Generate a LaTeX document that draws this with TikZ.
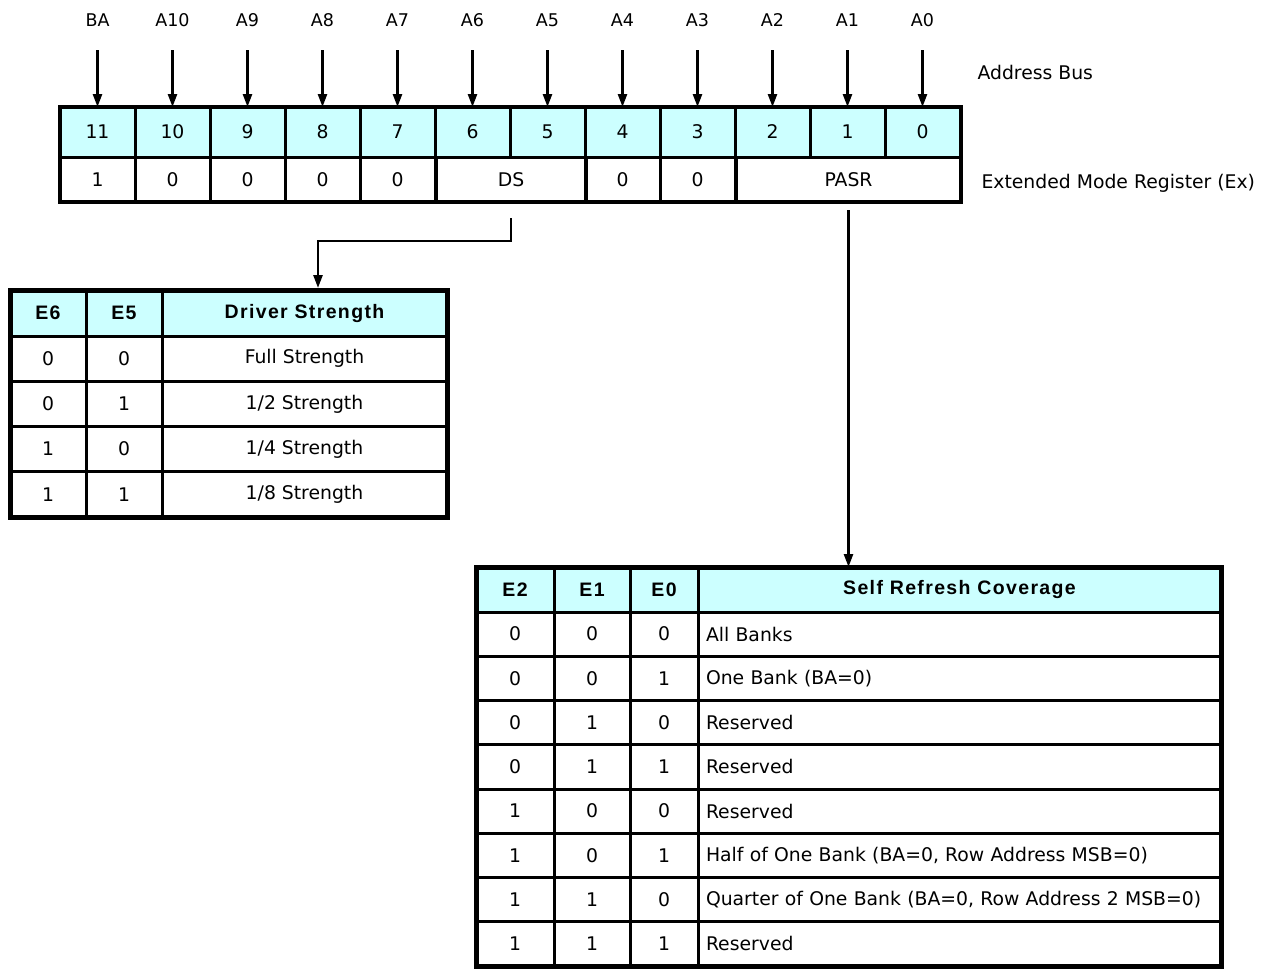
\documentclass[tikz,border=0pt]{standalone}
\usepackage{fontspec}
\setmainfont{DejaVu Sans}
\newfontfamily\headfont{Liberation Sans}[LetterSpace=7]
\usepackage{tikz}
\usetikzlibrary{arrows.meta,positioning,calc}
\definecolor{regcyan}{RGB}{204,255,255}

\newcommand{\cellfont}{\fontsize{18.8}{21}\selectfont}
\newcommand{\tagfont}{\fontsize{17.5}{19}\selectfont}
\newcommand{\hdfont}{\headfont\bfseries\fontsize{19.5}{22}\selectfont}

\begin{document}
\begin{tikzpicture}[x=1pt, y=-1pt,
  bitcell/.style={draw, line width=3pt, fill=regcyan, minimum width=75pt,
                  minimum height=50pt, inner sep=0pt, outer sep=0pt, font=\cellfont},
  valcell/.style={draw, line width=3pt, minimum width=#1, minimum height=45pt,
                  inner sep=0pt, outer sep=0pt, font=\cellfont},
  tcell/.style={draw, line width=3pt, minimum width=#1, minimum height=45.25pt,
                inner sep=0pt, outer sep=0pt, font=\cellfont},
  hcell/.style={tcell=#1, fill=regcyan, minimum height=46pt, font=\hdfont},
  addr/.style={font=\tagfont, inner sep=1pt},
  sig/.style={line width=2.5pt, -{Triangle[length=13pt, width=9pt]}}
]
  \useasboundingbox (0,0) rectangle (1271,969);

  % Register bits with address lines
  \foreach \b/\lbl in {11/BA,10/A10,9/A9,8/A8,7/A7,6/A6,5/A5,4/A4,3/A3,2/A2,1/A1,0/A0} {
    \node[bitcell] (b\b) at ({97.5+(11-\b)*75}, 132) {\b};
    \node[addr] (a\b) at (b\b |- 0,20) {\lbl};
    \draw[sig] (a\b) ++(0,30) -- (b\b.north);
  }
  \foreach \b/\v in {11/1,10/0,9/0,8/0,7/0,4/0,3/0}
    \node[valcell=75pt] (v\b) at (b\b |- 0,179.5) {\v};
  \node[valcell=150pt] (ds) at (511,179.5) {DS};
  \node[valcell=225pt] (pasr) at (848.5,179.5) {PASR};
  \draw[line width=4.5pt] (b11.north west) rectangle (pasr.south east);

  \node[anchor=west, font=\cellfont] (busname) at (974,72) {Address Bus};
  \node[anchor=west, font=\cellfont] (regname) at (978,183) {Extended Mode Register (Ex)};

  % Driver strength table
  \node[hcell=76pt] (e6) at (48,313) {E6};
  \node[hcell=76pt] (e5) at (124,313) {E5};
  \node[hcell=285pt] (drv) at (304.5,313) {Driver Strength};
  \foreach \r/\p/\q/\t in {1/0/0/Full Strength, 2/0/1/{1/2 Strength},
                           3/1/0/{1/4 Strength}, 4/1/1/{1/8 Strength}} {
    \pgfmathsetmacro{\ry}{336+(\r-0.5)*45.25}
    \node[tcell=76pt] (d\r a) at (48,\ry) {\p};
    \node[tcell=76pt] (d\r b) at (124,\ry) {\q};
    \node[tcell=285pt] (d\r c) at (304.5,\ry) {\t};
  }
  \draw[line width=5pt] (e6.north west) rectangle (d4c.south east);

  % Self refresh table
  \node[hcell=78pt, minimum height=45pt] (e2) at (515,589.5) {E2};
  \node[hcell=76pt, minimum height=45pt] (e1) at (592,589.5) {E1};
  \node[hcell=68pt, minimum height=45pt] (e0) at (664,589.5) {E0};
  \node[hcell=523pt, minimum height=45pt] (cov) at (959.5,589.5) {Self Refresh Coverage};
  \foreach \r/\p/\q/\s/\t in {1/0/0/0/All Banks, 2/0/0/1/{One Bank (BA=0)},
      3/0/1/0/Reserved, 4/0/1/1/Reserved, 5/1/0/0/Reserved,
      6/1/0/1/{Half of One Bank (BA=0, Row Address MSB=0)},
      7/1/1/0/{Quarter of One Bank (BA=0, Row Address 2 MSB=0)},
      8/1/1/1/Reserved} {
    \pgfmathsetmacro{\ry}{612+(\r-0.5)*44.25}
    \node[tcell=78pt, minimum height=44.25pt] (s\r a) at (515,\ry) {\p};
    \node[tcell=76pt, minimum height=44.25pt] (s\r b) at (592,\ry) {\q};
    \node[tcell=68pt, minimum height=44.25pt] (s\r c) at (664,\ry) {\s};
    \node[tcell=523pt, minimum height=44.25pt, text width=507pt, inner xsep=8pt,
          align=left] (s\r d) at (959.5,\ry) {\t};
  }
  \draw[line width=5pt] (e2.north west) rectangle (s8d.south east);

  % Field connectors
  \coordinate (drvin) at (318,288);
  \draw[sig] ([yshift=-16pt]ds.south) -- ++(0,23) -| (drvin);
  \draw[sig] ([yshift=-8pt]pasr.south) -- (pasr.south |- cov.north);
\end{tikzpicture}
\end{document}
